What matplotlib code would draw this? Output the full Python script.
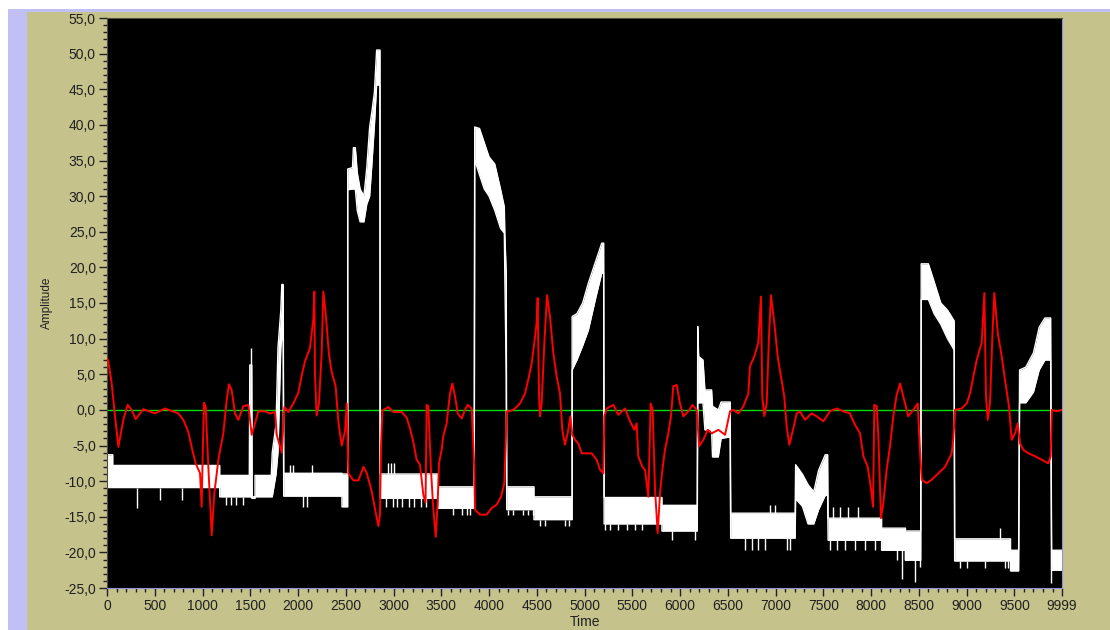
import numpy as np
import matplotlib.pyplot as plt
from matplotlib.patches import Rectangle
from matplotlib.ticker import MultipleLocator, FixedLocator, FuncFormatter

# white signal, drawn as a noisy band: time, lower edge, upper edge
white_t = [0, 60, 60, 1180, 1180, 1490, 1495, 1515, 1520, 1550, 1550, 1720,
           1730, 1770, 1790, 1820, 1830, 1845,
           1850, 2460, 2460, 2520,
           2520, 2570, 2580, 2600, 2620, 2650, 2690, 2720, 2750, 2775, 2800, 2823, 2858,
           2860, 3465, 3465, 3845,
           3850, 3900, 3950, 4000, 4060, 4120, 4160, 4165, 4180,
           4185, 4470, 4470, 4870,
           4870, 4920, 4980, 5040, 5120, 5180, 5200,
           5205, 5810, 5810, 6180,
           6185, 6195, 6240, 6260, 6330, 6340, 6400, 6430, 6525,
           6530, 7205,
           7210, 7280, 7340, 7400, 7450, 7520, 7545,
           7550, 8110, 8110, 8360, 8360, 8520,
           8525, 8600, 8660, 8730, 8800, 8870,
           8875, 9460, 9460, 9545,
           9555, 9620, 9700, 9760, 9820, 9880,
           9890, 9999]
white_lo = [-10.9, -10.9, -10.9, -10.9, -12.2, -12.2, -12.2, -12.2, -12.4, -12.4, -12.2, -12.2,
            -12.2, -9, -6, 8.7, 10, 10,
            -12.1, -12.1, -13.6, -13.6,
            30.9, 31, 31, 31, 28, 26.4, 26.4, 28.9, 30, 34.8, 40, 45.6, 45.6,
            -12.4, -12.4, -13.8, -13.8,
            35.1, 33, 31, 30, 28, 25.5, 24.8, 19.2, 4.6,
            -14, -14, -15.4, -15.4,
            5.6, 7, 9, 11.2, 15.9, 19.2, 19.2,
            -16, -16, -17, -17,
            1, 1, 1, -2.8, -2.8, -6.6, -6.6, -4, -3.8,
            -18, -18,
            -12.5, -13.5, -16, -16, -14, -12, -12,
            -18.3, -18.3, -19.7, -19.7, -21.1, -21.1,
            15.5, 15.5, 13.5, 12, 10, 8.4,
            -21.2, -21.2, -22.6, -22.6,
            1, 1, 2.5, 5.6, 7, 7,
            -22.5, -22.5]
white_hi = [-6.3, -6.3, -7.8, -7.8, -9.2, -9.2, 6.3, 6.3, -12.2, -12.2, -9.2, -9.2,
            -6, -2, 8.7, 14, 17.6, 17.6,
            -8.9, -8.9, -9, -9,
            33.8, 34, 36.8, 36.8, 33.3, 31, 30, 34, 39.7, 42, 44.6, 50.5, 50.5,
            -9, -9, -10.8, -10.8,
            39.7, 39.5, 37.5, 35.5, 34.5, 31, 28.5, 24.8, 19.2,
            -10.8, -10.8, -12.2, -12.2,
            13.1, 13.5, 15, 17.8, 21, 23.4, 23.4,
            -12.3, -12.3, -13.4, -13.4,
            11.7, 7.5, 7, 2.8, 2.8, 0.5, 0, 1.1, 1.1,
            -14.5, -14.5,
            -7.7, -9, -10.5, -11.5, -8.5, -6.3, -6.3,
            -15.2, -15.2, -16.6, -16.6, -17, -17,
            20.5, 20.5, 18, 15, 14, 12.5,
            -18.1, -18.1, -19.7, -19.7,
            5.6, 6, 8, 11.6, 12.9, 12.9,
            -19.7, -19.7]

# single-sample spikes sticking out of the white band
spike_t = [314, 555, 785, 1250, 1300, 1350, 1420, 1505, 1916, 1951, 2056, 2091, 2143,
           2921, 2990, 3040, 3090, 3160, 3213, 3283, 3335, 2938, 2973, 3008,
           3626, 3714, 3766, 3800, 4202, 4254, 4358, 4411, 4463, 4533, 4585, 4795, 4836,
           5214, 5267, 5354, 5441, 5528, 5598, 5755, 5912, 6155,
           6680, 6750, 6819, 6889, 7116, 7151, 6942, 6994,
           7570, 7640, 7727, 7832, 7937, 8041, 7605, 7675, 7762, 7867,
           8268, 8320, 8355, 8460, 8512,
           8931, 9001, 9193, 9402, 9437, 9350, 9888]
spike_from = [-10.9, -10.9, -10.9, -12.2, -12.2, -12.2, -12.2, -12.4, -8.9, -8.9, -12.1, -12.1, -8.9,
              -12.4, -12.4, -12.4, -12.4, -12.4, -12.4, -12.4, -12.4, -9, -9, -9,
              -13.8, -13.8, -13.8, -13.8, -14, -14, -14, -14, -14, -15.4, -15.4, -15.4, -15.4,
              -16, -16, -16, -16, -16, -16, -16, -17, -17,
              -18, -18, -18, -18, -18, -18, -14.5, -14.5,
              -18.3, -18.3, -18.3, -18.3, -18.3, -18.3, -15.2, -15.2, -15.2, -15.2,
              -19.7, -19.7, -19.7, -21.1, -21.1,
              -21.2, -21.2, -21.2, -21.2, -21.2, -18.1, -19.7]
spike_to = [-13.8, -12.6, -12.6, -13.4, -13.4, -13.4, -13.4, 8.7, -7.7, -7.7, -13.6, -13.6, -7.7,
            -13.6, -13.6, -13.6, -13.6, -13.6, -13.6, -13.6, -13.6, -7.5, -7.5, -7.5,
            -14.8, -14.8, -14.8, -14.8, -14.8, -14.8, -14.8, -14.8, -14.8, -16.3, -16.3, -16.3, -16.3,
            -16.9, -16.9, -16.9, -16.9, -16.9, -16.9, -16.9, -18.3, -18.3,
            -19.7, -19.7, -19.7, -19.7, -19.7, -19.7, -13.4, -13.4,
            -19.7, -19.7, -19.7, -19.7, -19.7, -19.7, -13.6, -13.6, -13.6, -13.6,
            -21, -23.8, -21, -24.1, -22,
            -22.2, -22.2, -22.2, -22.2, -22.2, -16.6, -24.3]

# red signal
red_t = [0, 14, 49, 77, 119, 171, 216, 258, 300, 380, 503, 607, 747, 799, 851, 893, 928, 974, 991,
         1001, 1015, 1033, 1061, 1096, 1124, 1166, 1218, 1253, 1277, 1305, 1340, 1375, 1427, 1480,
         1515, 1550, 1584, 1654, 1707, 1760, 1777, 1830, 1857, 1899, 1951, 2003, 2038, 2073, 2125,
         2160, 2171, 2178, 2195, 2219, 2247, 2265, 2289, 2324, 2352, 2394, 2422, 2457, 2492, 2510,
         2527, 2580, 2632, 2685, 2720, 2771, 2806, 2841, 2858, 2869, 2883, 2946, 2998, 3085, 3138,
         3172, 3207, 3242, 3277, 3312, 3335, 3347, 3364, 3392, 3417, 3442, 3462, 3476, 3504, 3521,
         3556, 3591, 3616, 3644, 3672, 3714, 3748, 3776, 3818, 3846, 3853, 3905, 3975, 4027, 4080,
         4125, 4160, 4174, 4185, 4219, 4272, 4324, 4377, 4418, 4446, 4474, 4498, 4509, 4523, 4533,
         4551, 4579, 4607, 4638, 4673, 4708, 4743, 4767, 4795, 4823, 4851, 4872, 4900, 4935, 4970,
         5022, 5075, 5127, 5162, 5197, 5207, 5232, 5302, 5354, 5424, 5476, 5521, 5545, 5563, 5605,
         5633, 5668, 5692, 5713, 5738, 5766, 5790, 5815, 5842, 5877, 5905, 5929, 5965, 5999, 6034,
         6087, 6129, 6175, 6199, 6244, 6289, 6331, 6401, 6471, 6523, 6558, 6610, 6663, 6715, 6732,
         6777, 6819, 6847, 6861, 6882, 6907, 6931, 6952, 6987, 7022, 7057, 7091, 7116, 7144, 7186,
         7221, 7255, 7308, 7378, 7430, 7500, 7570, 7640, 7709, 7779, 7832, 7884, 7919, 7965, 8000,
         8021, 8034, 8059, 8076, 8104, 8128, 8163, 8198, 8233, 8268, 8303, 8337, 8390, 8442, 8488,
         8512, 8530, 8582, 8635, 8704, 8774, 8844, 8861, 8879, 8949, 9001, 9036, 9071, 9106, 9158,
         9186, 9203, 9221, 9245, 9270, 9290, 9326, 9368, 9402, 9444, 9472, 9507, 9535, 9559, 9594,
         9647, 9716, 9786, 9856, 9881, 9891, 9943, 9999]
red_v = [7.2, 6.8, 3.7, 0, -5.2, -1.4, 0.7, 0, -1.3, 0.1, -0.5, 0.2, -0.5, -1.4, -3.1, -5.6, -7.5, -8.9, -13.6,
         -7, 1, 0.5, -8, -17.6, -11.7, -7, -3.3, 1.4, 3.6, 2.8, -0.5, -1.4, 0.5, 0.7,
         -3.5, -1.9, -0.2, -0.2, -0.5, -0.3, -3.5, -6, 0.4, -0.3, 0.9, 2.4, 4.8, 6.8, 8.7,
         12.7, 16.6, 4.8, -0.8, 0.9, 7.8, 16.6, 13.7, 7.8, 5.3, 3.3, -1.6, -5, -3, 0.9,
         -8.9, -9.9, -9.9, -8, -8.9, -11.4, -13.9, -16.3, -14.8, -5, -0.1, 0.4, -0.3, -0.3, -1.1,
         -2.6, -4.5, -7, -7.7, -11.9, -13, 0.7, 0.5, -8.4, -14, -17.8, -13.1, -7.5, -5.6, -3.7,
         -1.9, 2.3, 3.7, 1.9, -0.5, -1.2, 0, 0.7, 0.2, -8.2, -14, -14.7, -14.7, -13.8, -13.3,
         -12.2, -10.3, -5.1, -0.2, -0.2, 0.2, 0.9, 2.3, 4.7, 6.5, 9.4, 12.2, 15.7, 2.3, -0.9,
         0.9, 9.4, 16.1, 13.1, 8, 4.7, 2.3, -2.8, -4.9, -3.3, -0.9, -3.5, -4.2, -4.7, -6.1,
         -6.1, -6.1, -7, -8.4, -8.9, -0.9, 0.2, 0.7, -0.7, 0.2, -1.6, -2.8, -1.9, -6.5, -8,
         -8.4, -12.2, 0.9, 0, -11.2, -17.3, -11.7, -8.4, -5.6, -3.3, -0.9, 3.3, 3.5, 0.9, -0.9,
         -0.2, 0.7, 0, -5.1, -4.2, -2.8, -3.3, -2.8, -3.5, -0.2, 0, -0.5, 0.5, 2.3, 6.1,
         7.5, 9.4, 15.9, 1.9, -0.9, 0.9, 10.3, 16.1, 12.2, 7.5, 4.7, 1.9, -2.3, -4.9, -2.6,
         -0.5, -0.2, -1.4, -0.5, -0.9, -1.6, -0.2, 0.2, -0.2, -0.5, -2.1, -3.3, -6.5, -8, -11.2,
         -13.6, 0.7, 0.5, -3.7, -15.2, -13.1, -8.4, -5.1, -0.9, 2.1, 3.7, 1.9, -0.9, 0, 0.9,
         -5.6, -9.8, -10.3, -9.8, -8.9, -8, -6.1, -4, 0, 0.2, 0.9, 2.3, 4.7, 7, 9.4,
         16.4, 1.9, -1.4, 0.9, 10.3, 16.4, 10.8, 7.5, 4.2, 0.5, -4.2, -3.3, -1.9, -4.7, -5.6,
         -6.1, -6.5, -7, -7.5, -6.5, 0, -0.2, 0]

x_major = [0, 500, 1000, 1500, 2000, 2500, 3000, 3500, 4000, 4500, 5000, 5500,
           6000, 6500, 7000, 7500, 8000, 8500, 9000, 9500, 9999]

olive = '#c5c28c'
lavender = '#c0c0f4'
ink = '#202020'

plt.rcParams['font.family'] = ['Liberation Sans', 'DejaVu Sans']

fig = plt.figure(figsize=(11.1, 6.3), dpi=100)
fig.patch.set_facecolor(olive)
# window frame: white top strip, lavender border
fig.patches.append(Rectangle((0, 1 - 10 / 630), 1, 10 / 630, transform=fig.transFigure,
                             facecolor='white', edgecolor='none', zorder=0))
fig.patches.append(Rectangle((8 / 1110, 1 - 12 / 630), 1, 3 / 630, transform=fig.transFigure,
                             facecolor=lavender, edgecolor='none', zorder=0))
fig.patches.append(Rectangle((0, 0), 8 / 1110, 1 - 10 / 630, transform=fig.transFigure,
                             facecolor='white', edgecolor='none', zorder=0))
fig.patches.append(Rectangle((8 / 1110, 0), 19 / 1110, 1 - 10 / 630, transform=fig.transFigure,
                             facecolor=lavender, edgecolor='none', zorder=0))

ax = fig.add_axes([107 / 1110, 42 / 630, 955 / 1110, 570 / 630])
ax.set_facecolor('black')

ax.axhline(0, color='#00e000', lw=1, zorder=1)

wt = np.array(white_t)
ax.fill_between(wt, white_lo, white_hi, color='white', lw=0, zorder=2)
ax.plot(wt, white_lo, color='white', lw=1, zorder=2)
ax.plot(wt, white_hi, color='white', lw=1, zorder=2)
ax.vlines(spike_t, spike_from, spike_to, color='white', lw=1, zorder=2)

ax.plot(red_t, red_v, color='#ff0000', lw=1.4, zorder=3)

ax.set_xlim(0, 9999)
ax.set_ylim(-25, 55)

ax.yaxis.set_major_locator(MultipleLocator(5))
ax.yaxis.set_minor_locator(MultipleLocator(1))
ax.yaxis.set_major_formatter(FuncFormatter(lambda v, p: f"{v:.1f}".replace('.', ',')))
ax.xaxis.set_major_locator(FixedLocator(x_major))
ax.xaxis.set_minor_locator(FixedLocator([v for v in range(0, 10000, 100) if v % 500]))
ax.xaxis.set_major_formatter(FuncFormatter(lambda v, p: f"{int(round(v))}"))

ax.tick_params(which='major', length=6, width=1, color=ink, labelsize=10, labelcolor=ink, pad=2)
ax.tick_params(which='minor', length=3, width=1, color=ink)

for s in ['left', 'top']:
    ax.spines[s].set_color('#505040')
for s in ['bottom', 'right']:
    ax.spines[s].set_color('#9090e0')

ax.set_ylabel('Amplitude', fontsize=8.5, color=ink, labelpad=8)
ax.set_xlabel('Time', fontsize=10, color=ink, labelpad=1.5)

fig.savefig('out.png', dpi=100, facecolor=olive)
